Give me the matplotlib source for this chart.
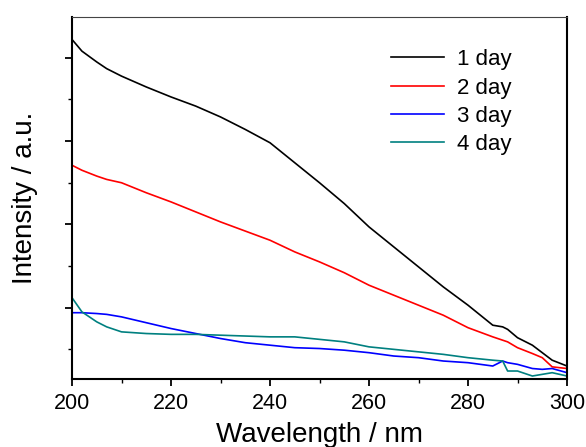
import matplotlib
matplotlib.use('Agg')
import matplotlib.pyplot as plt
from matplotlib.ticker import MultipleLocator, NullFormatter

plt.rcParams['font.family'] = ['Liberation Sans', 'DejaVu Sans']

# wavelengths (nm)
wavelength = [200, 202, 205, 207, 210, 215, 220, 225, 230, 235, 240, 245, 250,
              255, 260, 265, 270, 275, 280, 285, 287, 288, 290, 293, 295, 297, 300]

# intensity in arbitrary units
day1 = [4.22, 4.08, 3.95, 3.87, 3.78, 3.65, 3.53, 3.42, 3.29, 3.14, 2.98, 2.74, 2.50,
        2.25, 1.97, 1.73, 1.49, 1.25, 1.03, 0.79, 0.77, 0.74, 0.64, 0.55, 0.46, 0.37, 0.30]
day2 = [2.71, 2.65, 2.58, 2.54, 2.50, 2.38, 2.27, 2.15, 2.03, 1.92, 1.81, 1.67, 1.55,
        1.42, 1.27, 1.15, 1.03, 0.91, 0.76, 0.65, 0.61, 0.59, 0.52, 0.45, 0.40, 0.29, 0.27]
day3 = [0.94, 0.94, 0.93, 0.92, 0.89, 0.82, 0.75, 0.69, 0.63, 0.58, 0.55, 0.52, 0.51,
        0.49, 0.46, 0.42, 0.40, 0.36, 0.34, 0.30, 0.36, 0.34, 0.32, 0.27, 0.26, 0.27, 0.22]
day4 = [1.12, 0.95, 0.83, 0.77, 0.71, 0.69, 0.68, 0.68, 0.67, 0.66, 0.65, 0.65, 0.62,
        0.59, 0.53, 0.50, 0.47, 0.44, 0.40, 0.37, 0.36, 0.24, 0.24, 0.18, 0.20, 0.22, 0.18]

labels = ['1 day', '2 day', '3 day', '4 day']
colors = ['black', '#ff0000', '#0000ff', '#008080']

fig = plt.figure(figsize=(5.86, 4.47), dpi=100)
ax = fig.add_axes([0.1229, 0.1521, 0.8447, 0.8099])

for y, lab, c in zip([day1, day2, day3, day4], labels, colors):
    ax.plot(wavelength, y, color=c, lw=1.2, label=lab)

ax.set_xlim(200, 300)
ax.set_ylim(0.144, 4.49)
ax.xaxis.set_major_locator(MultipleLocator(20))
ax.xaxis.set_minor_locator(MultipleLocator(10))
ax.yaxis.set_major_locator(MultipleLocator(1))
ax.yaxis.set_minor_locator(MultipleLocator(0.5))
ax.yaxis.set_major_formatter(NullFormatter())

ax.tick_params(which='major', length=5, width=1.3, labelsize=15.5, pad=5)
ax.tick_params(which='minor', length=3, width=1.0)
ax.tick_params(axis='both', which='both', top=False, right=False)

for s in ['left', 'bottom', 'right']:
    ax.spines[s].set_linewidth(1.5)
ax.spines['top'].set_linewidth(0.8)
ax.spines['top'].set_color('#444444')

# the x label sits right at the bottom edge, as in the original figure
ax.set_xlabel('Wavelength / nm', fontsize=20)
ax.set_ylabel('Intensity / a.u.', fontsize=20)
ax.xaxis.set_label_coords(0.5, -0.12)
ax.yaxis.set_label_coords(-0.069, 0.5)

ax.legend(loc='upper left', bbox_to_anchor=(0.645, 0.911), frameon=False,
          fontsize=16, handlelength=2.35, handletextpad=0.6,
          labelspacing=0.33, borderpad=0, borderaxespad=0)

fig.savefig('out.png', dpi=100)
